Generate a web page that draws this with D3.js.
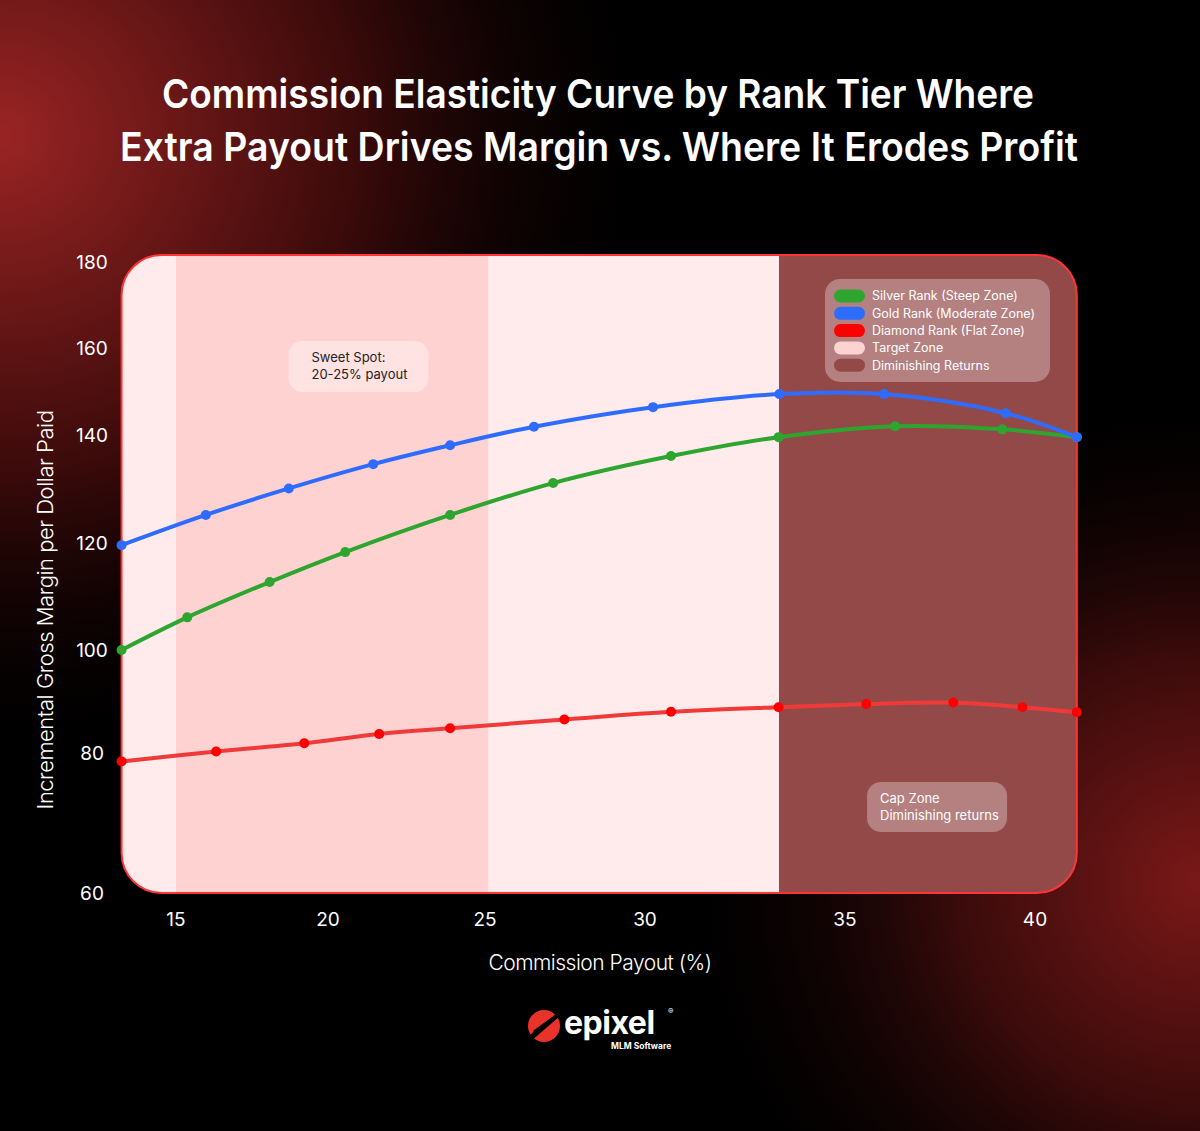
<!DOCTYPE html>
<html>
<head>
<meta charset="utf-8">
<script src="https://cdn.jsdelivr.net/npm/d3@7"></script>
<style>
  body { margin: 0; background: #000; }
  svg text { font-family: Inter, "Noto Sans", sans-serif; }
</style>
</head>
<body>
<div class="mainDiv"></div>
<script>
// ---- data ----
const xTicks = [15, 20, 25, 30, 35, 40];
const yTicks = [60, 80, 100, 120, 140, 160, 180];

const silverX = [13.21, 15.37, 18.08, 20.55, 23.89, 27.13, 30.65, 33.34, 36.32, 39.14, 41.1];
const silverY = [100, 106.1, 112.7, 118.3, 125.2, 131.1, 136.1, 139.6, 142.0, 141.3, 139.6];

const goldX = [13.21, 15.98, 18.71, 21.44, 23.89, 26.53, 30.2, 33.36, 36.03, 39.23, 41.1];
const goldY = [119.6, 125.2, 130.1, 134.6, 138.1, 141.9, 146.4, 149.4, 149.4, 145.0, 139.6];

const diamondX = [13.21, 16.32, 19.22, 21.63, 23.89, 27.48, 30.65, 33.34, 35.56, 37.85, 39.67, 41.1];
const diamondY = [78.8, 80.3, 81.9, 83.7, 84.8, 86.5, 88.0, 88.9, 89.5, 89.8, 88.9, 87.9];

const seriesNames = ["Silver Rank (Steep Zone)", "Gold Rank (Moderate Zone)", "Diamond Rank (Flat Zone)"];
const zoneNames = ["Target Zone", "Diminishing Returns"];
const targetZone = [15, 25.1];
const capZone = [33.35, 41.1];
const xDomain = [13.21, 41.1];

const colors = ["#2ea52e", "#2e6cff", "#ff0000"];
const lineColors = ["#2ea52e", "#2e6cff", "#f03a3a"];
const zoneColors = ["#ffd2d2", "#944949"];

const W = 1200, H = 1131;

const svg = d3.select('.mainDiv').append('svg')
  .attr('width', W).attr('height', H);

// background glow
const defs = svg.append('defs');
const g1 = defs.append('radialGradient').attr('id', 'glowTL')
  .attr('cx', 0).attr('cy', 0.12).attr('r', 0.75);
g1.append('stop').attr('offset', '0%').attr('stop-color', '#9a2424');
g1.append('stop').attr('offset', '40%').attr('stop-color', '#3a0a0a');
g1.append('stop').attr('offset', '75%').attr('stop-color', '#000').attr('stop-opacity', 0);
const g2 = defs.append('radialGradient').attr('id', 'glowBR')
  .attr('cx', 1).attr('cy', 0.78).attr('r', 0.45);
g2.append('stop').attr('offset', '0%').attr('stop-color', '#7a1818');
g2.append('stop').attr('offset', '45%').attr('stop-color', '#3a0b0b');
g2.append('stop').attr('offset', '100%').attr('stop-color', '#000').attr('stop-opacity', 0);

svg.append('rect').attr('width', W).attr('height', H).attr('fill', '#000');
svg.append('rect').attr('width', W).attr('height', H).attr('fill', 'url(#glowTL)');
svg.append('rect').attr('width', W).attr('height', H).attr('fill', 'url(#glowBR)');

// title
const title = svg.append('g').attr('fill', '#fff')
  .attr('font-size', 40).attr('font-weight', 600).attr('text-anchor', 'middle');
title.append('text').attr('x', 598).attr('y', 108)
  .attr('textLength', 872).attr('lengthAdjust', 'spacingAndGlyphs')
  .text('Commission Elasticity Curve by Rank Tier Where');
title.append('text').attr('x', 599).attr('y', 161)
  .attr('textLength', 958).attr('lengthAdjust', 'spacingAndGlyphs')
  .text('Extra Payout Drives Margin vs. Where It Erodes Profit');

// scales (the reference axis is spaced unevenly, so piecewise)
const x = d3.scaleLinear().domain(xTicks).range([176, 328, 485, 645, 845, 1035]);
const y = d3.scaleLinear().domain(yTicks).range([893, 753, 650, 543, 435, 348, 262]);

const plotLeft = x(xDomain[0]), plotRight = x(xDomain[1]);
const plotTop = 255, plotBottom = y(60);

defs.append('clipPath').attr('id', 'plotClip')
  .append('rect').attr('x', plotLeft).attr('y', plotTop)
  .attr('width', plotRight - plotLeft).attr('height', plotBottom - plotTop).attr('rx', 40);

const plot = svg.append('g').attr('clip-path', 'url(#plotClip)');
plot.append('rect').attr('x', plotLeft).attr('y', plotTop)
  .attr('width', plotRight - plotLeft).attr('height', plotBottom - plotTop).attr('fill', '#ffebeb');
plot.selectAll('rect.zone')
  .data([targetZone, capZone])
  .join('rect').attr('class', 'zone')
  .attr('x', d => x(d[0])).attr('width', d => x(d[1]) - x(d[0]))
  .attr('y', plotTop).attr('height', plotBottom - plotTop)
  .attr('fill', (d, i) => zoneColors[i]);

svg.append('rect').attr('x', plotLeft).attr('y', plotTop)
  .attr('width', plotRight - plotLeft).attr('height', plotBottom - plotTop).attr('rx', 40)
  .attr('fill', 'none').attr('stroke', '#ff3535').attr('stroke-width', 2);

// annotations
const sweet = svg.append('g').attr('transform', `translate(${x(18.7)},341)`);
sweet.append('rect').attr('width', 140).attr('height', 51).attr('rx', 14).attr('fill', '#ffe2e2');
sweet.append('text').attr('x', 23).attr('y', 21).attr('font-size', 13).attr('fill', '#222').text('Sweet Spot:');
sweet.append('text').attr('x', 23).attr('y', 38).attr('font-size', 13).attr('fill', '#222').text('20-25% payout');

const cap = svg.append('g').attr('transform', `translate(${x(35.58)},782)`);
cap.append('rect').attr('width', 140).attr('height', 50).attr('rx', 14).attr('fill', '#fff').attr('fill-opacity', 0.3);
cap.append('text').attr('x', 13).attr('y', 21).attr('font-size', 13).attr('fill', '#fff').text('Cap Zone');
cap.append('text').attr('x', 13).attr('y', 38).attr('font-size', 13).attr('fill', '#fff').text('Diminishing returns');

// lines
const series = [
  silverX.map((v, i) => [v, silverY[i]]),
  goldX.map((v, i) => [v, goldY[i]]),
  diamondX.map((v, i) => [v, diamondY[i]])
];
const line = d3.line().x(d => x(d[0])).y(d => y(d[1])).curve(d3.curveCatmullRom.alpha(0.5));

series.forEach((s, k) => {
  svg.append('path').datum(s)
    .attr('d', line).attr('fill', 'none')
    .attr('stroke', lineColors[k]).attr('stroke-width', 4);
  svg.append('g').selectAll('circle').data(s).join('circle')
    .attr('cx', d => x(d[0])).attr('cy', d => y(d[1])).attr('r', 5)
    .attr('fill', colors[k]);
});

// axes
svg.append('g').selectAll('text').data(yTicks).join('text')
  .attr('x', 92).attr('y', d => y(d)).attr('dy', '0.35em')
  .attr('text-anchor', 'middle').attr('font-size', 19).attr('fill', '#fff')
  .text(d => d);
svg.append('g').selectAll('text').data(xTicks).join('text')
  .attr('x', d => x(d)).attr('y', 926)
  .attr('text-anchor', 'middle').attr('font-size', 19).attr('fill', '#fff')
  .text(d => d);

svg.append('text').attr('x', 600).attr('y', 970).attr('text-anchor', 'middle')
  .attr('font-size', 21).attr('font-weight', 300).attr('fill', '#fff')
  .attr('letter-spacing', -0.5)
  .text('Commission Payout (%)');
svg.append('text').attr('transform', 'translate(53,610) rotate(-90)')
  .attr('text-anchor', 'middle').attr('font-size', 22).attr('font-weight', 300).attr('fill', '#fff')
  .attr('letter-spacing', -0.5)
  .text('Incremental Gross Margin per Dollar Paid');

// legend
const legend = svg.append('g').attr('transform', 'translate(825,279)');
legend.append('rect').attr('width', 225).attr('height', 103).attr('rx', 15)
  .attr('fill', '#fff').attr('fill-opacity', 0.3);
const legendItems = seriesNames.map((n, i) => ({ name: n, color: colors[i] }))
  .concat(zoneNames.map((n, i) => ({ name: n, color: zoneColors[i] })));
const li = legend.selectAll('g.item').data(legendItems).join('g').attr('class', 'item')
  .attr('transform', (d, i) => `translate(9,${17 + i * 17.3})`);
li.append('rect').attr('x', 0).attr('y', -6.5).attr('width', 31).attr('height', 13).attr('rx', 6.5)
  .attr('fill', d => d.color);
li.append('text').attr('x', 38).attr('dy', '0.35em').attr('font-size', 12.5).attr('fill', '#fff')
  .text(d => d.name);

// logo
const logo = svg.append('g').attr('transform', 'translate(544,1026)');
logo.append('circle').attr('r', 16).attr('fill', '#e8322a');
logo.append('path').attr('d', 'M-18,12 L20,-18 L16,-10 L-14,16 Z').attr('fill', '#000');
logo.append('path').attr('d', 'M-10,6 L12,-10').attr('stroke', '#000').attr('stroke-width', 3);
logo.append('text').attr('x', 20).attr('y', 8).attr('font-size', 32).attr('font-weight', 700)
  .attr('fill', '#fff').attr('letter-spacing', -0.5).text('epixel');
logo.append('text').attr('x', 124).attr('y', -12).attr('font-size', 8).attr('fill', '#fff').text('®');
logo.append('text').attr('x', 67).attr('y', 23).attr('font-size', 8.5).attr('font-weight', 700)
  .attr('fill', '#fff').text('MLM Software');
</script>
</body>
</html>
